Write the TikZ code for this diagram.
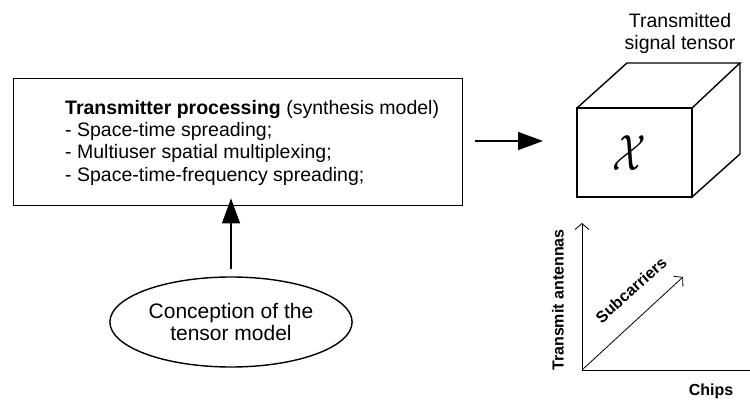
\documentclass[tikz,border=0pt]{standalone}
\usepackage{fontspec}
\setmainfont{Liberation Sans}
\usetikzlibrary{shapes.geometric,arrows.meta}
\begin{document}
\begin{tikzpicture}[x=1pt,y=-1pt,
  edge/.style={line width=1.4pt},
  bigarrow/.style={line width=1.5pt,-{Triangle[length=25pt,width=18pt]}},
  axis/.style={line width=0.8pt,-{Straight Barb[length=6pt,width=14pt]}},
  lbl/.style={inner sep=0pt,font=\fontsize{19.5}{22.3}\selectfont},
  axlbl/.style={inner sep=0pt,font=\fontsize{16}{18}\selectfont\bfseries}]
\useasboundingbox (0,0) rectangle (750,401);
% processing box
\node[draw,edge,minimum width=449pt,minimum height=127pt,anchor=north west,inner sep=0pt] (proc) at (13,78) {};
\node[lbl,anchor=north west,align=left] (ptext) at (65,100) {{\bfseries Transmitter processing} (synthesis model)\\
- Space-time spreading;\\
- Multiuser spatial multiplexing;\\
- Space-time-frequency spreading;};
% ellipse
\node[draw,edge,ellipse,minimum width=220pt,minimum height=90pt,align=center,font=\fontsize{21}{22.5}\selectfont] (conc) at (231,322) {Conception of the\\tensor model};
\draw[bigarrow,shorten <=7pt] (conc.north) -- ([yshift=8pt]proc.south -| conc.north);
% cube
\coordinate (f1) at (577,108);
\coordinate (f2) at (692,108);
\coordinate (f3) at (692,197);
\coordinate (f4) at (577,197);
\coordinate (b1) at (627,63);
\coordinate (b2) at (740,63);
\coordinate (b3) at (740,154);
\draw[edge,line join=miter] (f1) rectangle (f3);
\draw[edge,line join=miter] (f1) -- (b1) -- (b2) -- (f2);
\draw[edge,line join=miter] (b2) -- (b3) -- (f3);
\node[inner sep=0pt,xscale=3.9,yscale=5.1] (X) at (629,153) {$\mathcal{X}$};
\node[lbl,align=center,anchor=north] (cap) at (680,13) {Transmitted\\signal tensor};
\coordinate (arrstart) at (475,141);
\coordinate (arrend) at (543,141);
\draw[bigarrow] (arrstart) -- (arrend);
% axes
\coordinate (o) at (582,370);
\coordinate (ytip) at (582,223);
\coordinate (xtip) at (750,370);
\coordinate (dtip) at (683,277);
\draw[axis] (o) -- (ytip);
\draw[line width=0.8pt] (o) -- (xtip);
\draw[axis] (o) -- (dtip);
\node[axlbl,rotate=90] (ta) at (558,300) {Transmit antennas};
\node[axlbl,rotate=42] (sc) at (631,290) {Subcarriers};
\node[axlbl] (ch) at (711,391) {Chips};
\end{tikzpicture}
\end{document}
